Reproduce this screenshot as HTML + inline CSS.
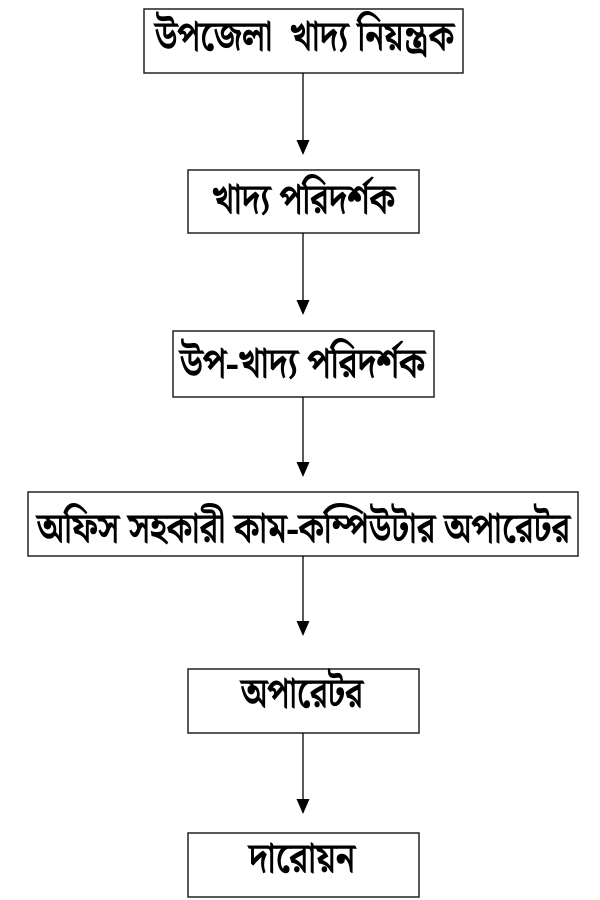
<!DOCTYPE html>
<html lang="bn">
<head>
<meta charset="utf-8">
<style>
html,body{margin:0;padding:0;background:#fff;width:600px;height:900px;overflow:hidden}
svg{display:block}
text{font-family:"Liberation Serif","Noto Serif Bengali","Noto Sans Bengali","Lohit Bengali",serif;font-size:42px;font-weight:normal;fill:#000;stroke:#000;stroke-width:1.1}
rect{fill:#fff;stroke:#222;stroke-width:1.5}
line{stroke:#000;stroke-width:1.3}
polygon{fill:#000}
</style>
</head>
<body>
<svg width="600" height="900" viewBox="0 0 600 900" xmlns="http://www.w3.org/2000/svg">
<rect x="144" y="9" width="319" height="64"/>
<rect x="188" y="170" width="231" height="63"/>
<rect x="173" y="331" width="261" height="66"/>
<rect x="28" y="492" width="550" height="64"/>
<rect x="188" y="669" width="231" height="64"/>
<rect x="188" y="833" width="231" height="64"/>

<line x1="303" y1="73" x2="303" y2="142"/><polygon points="296.500,140 309.500,140 303,155"/>
<line x1="303" y1="233" x2="303" y2="302"/><polygon points="296.500,300 309.500,300 303,315"/>
<line x1="303" y1="397" x2="303" y2="464"/><polygon points="296.500,462 309.500,462 303,477"/>
<line x1="303" y1="556" x2="303" y2="623"/><polygon points="296.500,621 309.500,621 303,636"/>
<line x1="303" y1="733" x2="303" y2="801"/><polygon points="296.500,799 309.500,799 303,814"/>

<text x="155" y="50" textLength="299" lengthAdjust="spacingAndGlyphs">উপজেলা&#160;&#160;খাদ্য নিয়ন্ত্রক</text>
<text x="212" y="213" textLength="183" lengthAdjust="spacingAndGlyphs">খাদ্য পরিদর্শক</text>
<text x="180" y="377" textLength="245" lengthAdjust="spacingAndGlyphs">উপ-খাদ্য পরিদর্শক</text>
<text x="37" y="542" textLength="533" lengthAdjust="spacingAndGlyphs">অফিস সহকারী কাম-কম্পিউটার অপারেটর</text>
<text x="241" y="707" textLength="122" lengthAdjust="spacingAndGlyphs">অপারেটর</text>
<text x="249" y="872" textLength="106" lengthAdjust="spacingAndGlyphs">দারোয়ন</text>
</svg>
</body>
</html>
